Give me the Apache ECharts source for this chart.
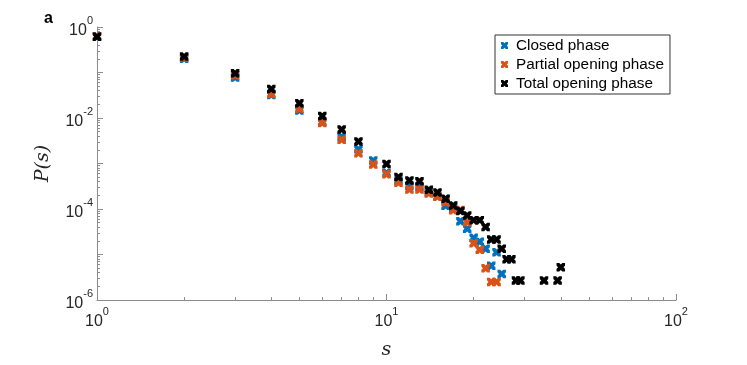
<!DOCTYPE html>
<html lang="en">
<head>
  <meta charset="UTF-8">
  <title>P(s)</title>
  <style>
    html, body { margin: 0; padding: 0; background: #fff; }
  </style>
</head>
<body>
  <div id="main" style="width: 747px;height:365px;"></div>

  <script src="https://cdn.jsdelivr.net/npm/echarts@6/dist/echarts.min.js"></script>
  <script>
    // values
    const closedS = [1, 2, 3, 4, 5, 6, 7, 8, 9, 10, 11, 12, 13, 14, 15, 16, 17, 18, 19, 20, 21, 22, 23, 24, 25];
    const closedP = [0.63, 0.2, 0.0774, 0.032, 0.0146, 0.0082, 0.00388, 0.00206, 0.00117, 0.000623, 0.000424, 0.000321,
      0.00031, 0.00023, 0.000188, 0.000118, 0.000104, 0.000054, 0.0000368, 0.0000232, 0.000019, 0.0000134,
      0.00000565, 0.0000112, 0.00000375];

    const partialS = [1, 2, 3, 4, 5, 6, 7, 8, 9, 10, 11, 12, 13, 14, 15, 16, 17, 18, 19, 20, 21, 22, 23, 24];
    const partialP = [0.62, 0.213, 0.087, 0.0337, 0.0159, 0.00773, 0.00334, 0.00169, 0.000952, 0.000578, 0.000378,
      0.000267, 0.000268, 0.000219, 0.000185, 0.00014, 0.0000936, 0.0000945, 0.0000514, 0.0000176, 0.0000127,
      0.00000501, 0.0000025, 0.0000025];

    const totalS = [1, 2, 3, 4, 5, 6, 7, 8, 10, 11, 12, 13, 14, 15, 16, 17, 18, 19, 20, 21, 22, 23, 24, 25, 26, 27,
      28, 29, 35, 39, 40];
    const totalP = [0.607, 0.224, 0.096, 0.0432, 0.0212, 0.01107, 0.00558, 0.00303, 0.000976, 0.000502, 0.000424,
      0.000408, 0.000264, 0.00023, 0.000168, 0.00012, 0.0000904, 0.0000719, 0.0000569, 0.0000569, 0.0000401,
      0.0000213, 0.0000213, 0.0000134, 0.00000785, 0.00000785, 0.00000267, 0.00000267, 0.00000267, 0.00000267,
      0.00000527];

    const seriesNames = ['Closed phase', 'Partial opening phase', 'Total opening phase'];
    const colors = ['#0072BD', '#D95319', '#000000'];

    const xMajor = [1, 10, 100];
    const yMajor = [1e-6, 1e-5, 1e-4, 1e-3, 1e-2, 1e-1, 1];
    const yLabels = [1e-6, 1e-4, 1e-2, 1];

    const minorOf = (lo, hi) => {
      const out = [];
      for (let e = lo; e < hi; e++) {
        for (let k = 2; k <= 9; k++) out.push(+(k * Math.pow(10, e)).toPrecision(3));
      }
      return out;
    };

    // thick "x" marker like matlab's
    const xSym = 'path://M0,0 L3.2,0 L5,1.8 L6.8,0 L10,0 L10,3.2 L8.2,5 L10,6.8 L10,10 L6.8,10 L5,8.2 L3.2,10 L0,10 L0,6.8 L1.8,5 L0,3.2 Z';

    const pow10 = (v) => {
      const e = Math.round(Math.log10(v));
      return '{b|10}{e|' + e + '}';
    };
    const labelRich = {
      b: { fontSize: 16, fontFamily: 'Liberation Sans', color: '#262626', lineHeight: 24, verticalAlign: 'bottom' },
      e: { fontSize: 11, fontFamily: 'Liberation Sans', color: '#262626', lineHeight: 24, verticalAlign: 'top' }
    };
    const axisGray = '#8c8c8c';

    const myChart = echarts.init(document.getElementById('main'));

    const options = {
      animation: false,
      title: {
        text: 'a',
        left: 39,
        top: 6,
        textStyle: { fontSize: 16, fontWeight: 'bold', fontFamily: 'Liberation Sans', color: '#000' }
      },
      legend: {
        orient: 'vertical',
        left: 495,
        top: 35,
        padding: [3, 6, 3, 6],
        itemGap: 4,
        itemWidth: 7,
        itemHeight: 7,
        borderColor: '#333',
        borderWidth: 1,
        textStyle: { fontSize: 15.3, lineHeight: 15, fontFamily: 'Liberation Sans', color: '#000', padding: [0, 0, 0, 3] },
        data: seriesNames.map((n) => ({ name: n, icon: xSym }))
      },
      grid: { left: 97, right: 71, top: 27, bottom: 61, containLabel: false },
      xAxis: [
        {
          type: 'log',
          logBase: 10,
          min: 1,
          max: 100,
          position: 'bottom',
          name: 's',
          nameLocation: 'middle',
          nameGap: 41,
          nameTextStyle: { fontSize: 19, fontStyle: 'italic', fontFamily: 'DejaVu Serif', color: '#262626' },
          axisLine: { lineStyle: { color: axisGray, width: 1 } },
          axisTick: { inside: true, length: 6, customValues: xMajor, lineStyle: { color: axisGray } },
          axisLabel: { customValues: xMajor, formatter: pow10, rich: labelRich, margin: 6 },
          splitLine: { show: false }
        },
        {
          type: 'log',
          logBase: 10,
          min: 1,
          max: 100,
          position: 'bottom',
          axisLine: { show: false },
          axisTick: { inside: true, length: 3, customValues: minorOf(0, 2), lineStyle: { color: axisGray } },
          axisLabel: { show: false },
          splitLine: { show: false }
        }
      ],
      yAxis: [
        {
          type: 'log',
          logBase: 10,
          min: 1e-6,
          max: 1,
          position: 'left',
          name: 'P(s)',
          nameLocation: 'middle',
          nameGap: 44,
          nameTextStyle: { fontSize: 19, fontStyle: 'italic', fontFamily: 'DejaVu Serif', color: '#262626' },
          axisLine: { lineStyle: { color: axisGray, width: 1 } },
          axisTick: { inside: true, length: 6, customValues: yMajor, lineStyle: { color: axisGray } },
          axisLabel: { customValues: yLabels, formatter: pow10, rich: labelRich, margin: 4 },
          splitLine: { show: false }
        },
        {
          type: 'log',
          logBase: 10,
          min: 1e-6,
          max: 1,
          position: 'left',
          axisLine: { show: false },
          axisTick: { inside: true, length: 3, customValues: minorOf(-6, 0), lineStyle: { color: axisGray } },
          axisLabel: { show: false },
          splitLine: { show: false }
        }
      ],
      series: [
        { name: seriesNames[0], s: closedS, p: closedP },
        { name: seriesNames[1], s: partialS, p: partialP },
        { name: seriesNames[2], s: totalS, p: totalP }
      ].map((d, i) => ({
        name: d.name,
        type: 'scatter',
        symbol: xSym,
        symbolSize: 8.5,
        itemStyle: { color: colors[i], opacity: 1 },
        data: d.s.map((s, j) => [s, d.p[j]])
      }))
    };

    myChart.setOption(options);
  </script>
</body>
</html>
